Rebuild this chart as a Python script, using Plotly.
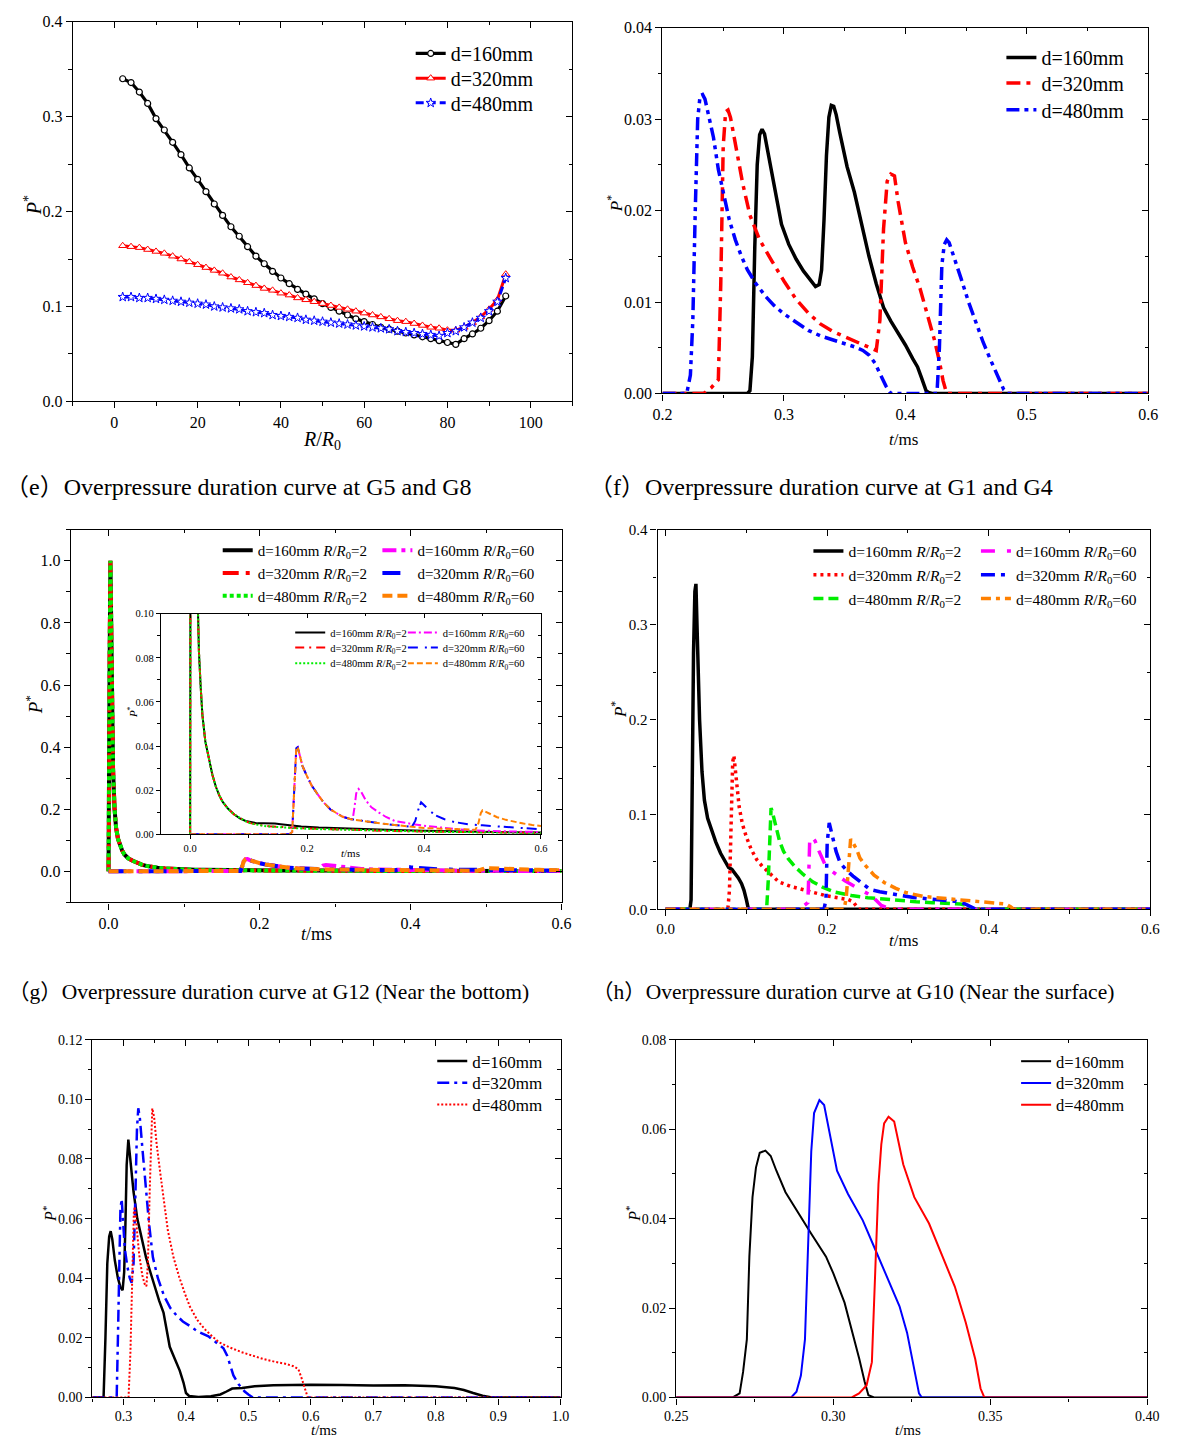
import plotly.graph_objects as go

W, H = 1177, 1446
SERIF = "Liberation Serif, Times New Roman, serif"
CAPF = "Liberation Serif, Noto Sans CJK SC, serif"

# ---------------- data: (e) peak overpressure vs R/R0 ----------------
e_R = [2, 4, 6, 8, 10, 12, 14, 16, 18, 20, 22, 24, 26, 28, 30, 32, 34, 36, 38, 40,
       42, 44, 46, 48, 50, 52, 54, 56, 58, 60, 62, 64, 66, 68, 70, 72, 74, 76, 78, 80,
       82, 84, 86, 88, 90, 92, 94]
e_d160 = [0.340, 0.336, 0.326, 0.314, 0.298, 0.286, 0.273, 0.260, 0.246, 0.234, 0.221, 0.208,
          0.196, 0.184, 0.174, 0.163, 0.153, 0.145, 0.137, 0.130, 0.124, 0.118, 0.113, 0.108,
          0.103, 0.099, 0.095, 0.091, 0.087, 0.084, 0.081, 0.078, 0.076, 0.074, 0.072, 0.070,
          0.068, 0.066, 0.064, 0.062, 0.060, 0.066, 0.071, 0.077, 0.085, 0.095, 0.111]
e_d320 = [0.164, 0.163, 0.162, 0.160, 0.158, 0.156, 0.153, 0.150, 0.147, 0.144, 0.141, 0.138,
          0.135, 0.131, 0.128, 0.125, 0.122, 0.119, 0.117, 0.114, 0.112, 0.109, 0.107, 0.105,
          0.103, 0.101, 0.099, 0.097, 0.095, 0.093, 0.091, 0.089, 0.087, 0.085, 0.084, 0.082,
          0.080, 0.078, 0.077, 0.075, 0.075, 0.078, 0.083, 0.089, 0.097, 0.107, 0.134]
e_d480 = [0.110, 0.110, 0.109, 0.109, 0.108, 0.107, 0.106, 0.105, 0.104, 0.103, 0.102, 0.100,
          0.099, 0.098, 0.097, 0.095, 0.094, 0.093, 0.091, 0.090, 0.089, 0.088, 0.086, 0.085,
          0.084, 0.083, 0.082, 0.081, 0.080, 0.079, 0.078, 0.077, 0.076, 0.074, 0.073, 0.072,
          0.071, 0.070, 0.069, 0.072, 0.074, 0.078, 0.083, 0.088, 0.095, 0.105, 0.130]

# ---------------- data: (f) G1/G4 ----------------
f_t160 = [0.2, 0.270, 0.272, 0.274, 0.276, 0.278, 0.280, 0.282, 0.284, 0.287, 0.292, 0.298, 0.304,
          0.310, 0.316, 0.322, 0.326, 0.329, 0.331, 0.333, 0.335, 0.337, 0.339, 0.341, 0.343, 0.346,
          0.352, 0.358, 0.364, 0.370, 0.376, 0.382, 0.388, 0.394, 0.400, 0.406, 0.410, 0.413, 0.415,
          0.417, 0.419, 0.422, 0.6]
f_p160 = [0, 0, 0.0003, 0.004, 0.016, 0.025, 0.0283, 0.0289, 0.0284, 0.0262, 0.0225, 0.0185, 0.0163,
          0.0147, 0.0134, 0.0123, 0.0117, 0.0119, 0.0135, 0.019, 0.026, 0.0302, 0.0315, 0.0314, 0.0305,
          0.0285, 0.0248, 0.022, 0.0185, 0.015, 0.012, 0.0094, 0.0079, 0.0066, 0.0053, 0.0038, 0.0029,
          0.0018, 0.001, 0.0003, 0.0001, 0, 0]
f_t320 = [0.2, 0.234, 0.240, 0.246, 0.248, 0.250, 0.252, 0.254, 0.256, 0.260, 0.266, 0.272, 0.280,
          0.290, 0.300, 0.310, 0.320, 0.330, 0.340, 0.350, 0.360, 0.370, 0.376, 0.379, 0.382, 0.385,
          0.388, 0.391, 0.394, 0.400, 0.406, 0.412, 0.418, 0.424, 0.428, 0.431, 0.434, 0.6]
f_p320 = [0, 0, 0.0006, 0.0015, 0.012, 0.027, 0.0308, 0.031, 0.0302, 0.0275, 0.023, 0.0195, 0.0168,
          0.0145, 0.0123, 0.0103, 0.0088, 0.0076, 0.0068, 0.0062, 0.0056, 0.005, 0.0047, 0.008, 0.018,
          0.0232, 0.024, 0.0238, 0.021, 0.0165, 0.0138, 0.0115, 0.0088, 0.0058, 0.0035, 0.0014, 0, 0]
f_t480 = [0.2, 0.220, 0.223, 0.225, 0.227, 0.229, 0.231, 0.233, 0.235, 0.238, 0.242, 0.246, 0.250,
          0.255, 0.260, 0.265, 0.270, 0.277, 0.285, 0.292, 0.300, 0.310, 0.320, 0.330, 0.340, 0.350,
          0.358, 0.365, 0.370, 0.375, 0.380, 0.384, 0.388, 0.426, 0.428, 0.430, 0.432, 0.434, 0.436,
          0.440, 0.446, 0.452, 0.458, 0.464, 0.470, 0.476, 0.481, 0.484, 0.6]
f_p480 = [0, 0, 0.002, 0.008, 0.02, 0.03, 0.0326, 0.0327, 0.0322, 0.0305, 0.028, 0.0245, 0.022, 0.019,
          0.0168, 0.015, 0.0135, 0.012, 0.0106, 0.0096, 0.0087, 0.0078, 0.0069, 0.0063, 0.0059, 0.0055,
          0.0051, 0.0047, 0.0042, 0.0033, 0.002, 0.0008, 0, 0, 0.005, 0.014, 0.0163, 0.0168, 0.0165,
          0.015, 0.0125, 0.01, 0.0078, 0.0056, 0.0037, 0.0018, 0.0004, 0, 0]

# ---------------- data: (g) G12 near the bottom ----------------
g_t_r2 = [0, 0.0008, 0.0015, 0.0025, 0.0035, 0.0045, 0.006, 0.008, 0.010, 0.0125, 0.015, 0.018, 0.021,
          0.026, 0.032, 0.038, 0.044, 0.050, 0.056, 0.065, 0.075, 0.085, 0.095, 0.105, 0.115, 0.125,
          0.135, 0.145, 0.155, 0.170, 0.190, 0.220, 0.260, 0.300, 0.350, 0.400, 0.450, 0.500, 0.550, 0.600]
g_p160_r2 = [0, 0.2, 0.7, 1.0, 0.8, 0.55, 0.33, 0.2, 0.14, 0.105, 0.083, 0.067, 0.054, 0.042, 0.034,
             0.027, 0.0215, 0.0175, 0.0145, 0.0115, 0.009, 0.0072, 0.006, 0.0053, 0.0049, 0.0049, 0.005,
             0.0048, 0.0045, 0.004, 0.0035, 0.003, 0.0026, 0.0023, 0.0019, 0.0016, 0.0013, 0.0011,
             0.0009, 0.0008]
g_p320_r2 = [0, 0.2, 0.72, 1.0, 0.8, 0.55, 0.33, 0.2, 0.14, 0.105, 0.083, 0.067, 0.054, 0.042, 0.034,
             0.027, 0.0215, 0.0175, 0.0145, 0.0115, 0.009, 0.0072, 0.0058, 0.0049, 0.0043, 0.0039,
             0.0036, 0.0034, 0.0032, 0.003, 0.0027, 0.0024, 0.002, 0.0017, 0.0014, 0.0012, 0.001,
             0.0008, 0.0007, 0.0006]
g_p480_r2 = [0, 0.2, 0.7, 1.0, 0.8, 0.55, 0.33, 0.2, 0.14, 0.105, 0.083, 0.067, 0.054, 0.042, 0.034,
             0.027, 0.0215, 0.0175, 0.0145, 0.0115, 0.009, 0.0072, 0.0058, 0.0048, 0.0042, 0.0038,
             0.0035, 0.0033, 0.0031, 0.0029, 0.0026, 0.0023, 0.002, 0.0017, 0.0014, 0.0012, 0.001,
             0.0008, 0.0007, 0.0006]
g_t160_r60 = [0, 0.170, 0.1745, 0.177, 0.179, 0.1815, 0.184, 0.187, 0.192, 0.200, 0.208, 0.217, 0.228,
              0.240, 0.250, 0.261, 0.270, 0.278, 0.281, 0.284, 0.288, 0.292, 0.300, 0.310, 0.323, 0.335,
              0.350, 0.365, 0.380, 0.400, 0.430, 0.460, 0.490, 0.520, 0.550, 0.600]
g_p160_r60 = [0, 0, 0.001, 0.015, 0.032, 0.039, 0.0395, 0.036, 0.031, 0.0262, 0.022, 0.0185, 0.0145,
              0.0112, 0.0095, 0.0079, 0.0072, 0.0068, 0.012, 0.0185, 0.0205, 0.0195, 0.0155, 0.0122,
              0.0098, 0.0078, 0.006, 0.0052, 0.0046, 0.0038, 0.0029, 0.0022, 0.0017, 0.0014, 0.0012, 0.001]
g_t320_r60 = [0, 0.170, 0.1745, 0.177, 0.179, 0.1815, 0.184, 0.187, 0.192, 0.200, 0.208, 0.217, 0.228,
              0.240, 0.250, 0.261, 0.275, 0.289, 0.303, 0.317, 0.331, 0.345, 0.360, 0.379, 0.385, 0.390,
              0.395, 0.400, 0.410, 0.420, 0.435, 0.452, 0.475, 0.500, 0.525, 0.550, 0.575, 0.600]
g_p320_r60 = [0, 0, 0.001, 0.015, 0.032, 0.039, 0.0395, 0.036, 0.031, 0.0262, 0.022, 0.0185, 0.0145,
              0.0112, 0.0095, 0.0079, 0.0068, 0.0062, 0.0057, 0.0052, 0.0047, 0.0043, 0.0038, 0.0033,
              0.006, 0.011, 0.0145, 0.013, 0.0105, 0.0085, 0.0068, 0.0055, 0.0045, 0.004, 0.0036,
              0.0032, 0.0027, 0.0022]
g_t480_r60 = [0, 0.170, 0.1745, 0.177, 0.179, 0.1815, 0.184, 0.187, 0.192, 0.200, 0.208, 0.217, 0.228,
              0.240, 0.250, 0.261, 0.275, 0.289, 0.303, 0.317, 0.331, 0.345, 0.360, 0.379, 0.400, 0.430,
              0.457, 0.488, 0.493, 0.497, 0.500, 0.505, 0.515, 0.525, 0.540, 0.555, 0.570, 0.585, 0.600]
g_p480_r60 = [0, 0, 0.001, 0.015, 0.032, 0.039, 0.0395, 0.036, 0.031, 0.0262, 0.022, 0.0185, 0.0145,
              0.0112, 0.0095, 0.0079, 0.0068, 0.0062, 0.0057, 0.0052, 0.0047, 0.0043, 0.0038, 0.0033,
              0.0028, 0.0025, 0.0022, 0.002, 0.005, 0.0095, 0.0108, 0.0102, 0.0088, 0.0077, 0.0065,
              0.0055, 0.0048, 0.0042, 0.0037]

# ---------------- data: (h) G10 near the surface ----------------
h_t160_r2 = [0, 0.030, 0.0315, 0.033, 0.0345, 0.0362, 0.0375, 0.0388, 0.040, 0.042, 0.045, 0.048, 0.052,
             0.057, 0.062, 0.068, 0.074, 0.078, 0.082, 0.086, 0.090, 0.094, 0.097, 0.100, 0.102, 0.104, 0.600]
h_p160_r2 = [0, 0, 0.01, 0.15, 0.27, 0.335, 0.343, 0.3, 0.255, 0.2, 0.145, 0.115, 0.096, 0.082, 0.071,
             0.059, 0.049, 0.044, 0.042, 0.038, 0.033, 0.027, 0.02, 0.01, 0.002, 0, 0]
h_t320_r2 = [0, 0.077, 0.079, 0.081, 0.083, 0.0845, 0.086, 0.088, 0.091, 0.095, 0.100, 0.106, 0.113,
             0.120, 0.130, 0.140, 0.155, 0.170, 0.185, 0.200, 0.215, 0.226, 0.232, 0.236, 0.239, 0.600]
h_p320_r2 = [0, 0, 0.02, 0.1, 0.155, 0.162, 0.15, 0.13, 0.108, 0.09, 0.076, 0.063, 0.052, 0.045, 0.037,
             0.029, 0.024, 0.0205, 0.017, 0.014, 0.0118, 0.0102, 0.008, 0.004, 0, 0]
h_t480_r2 = [0, 0.125, 0.127, 0.129, 0.1305, 0.132, 0.134, 0.137, 0.141, 0.146, 0.152, 0.160, 0.170,
             0.182, 0.195, 0.210, 0.230, 0.250, 0.270, 0.290, 0.310, 0.330, 0.350, 0.365, 0.372, 0.378,
             0.383, 0.600]
h_p480_r2 = [0, 0, 0.03, 0.09, 0.1066, 0.103, 0.096, 0.085, 0.072, 0.061, 0.053, 0.045, 0.037, 0.029,
             0.023, 0.018, 0.0145, 0.0122, 0.0105, 0.009, 0.008, 0.007, 0.0065, 0.0055, 0.0042, 0.002, 0, 0]
h_t160_r60 = [0, 0.160, 0.170, 0.176, 0.1768, 0.1775, 0.1785, 0.181, 0.185, 0.190, 0.198, 0.206, 0.214,
              0.222, 0.232, 0.242, 0.251, 0.260, 0.267, 0.275, 0.283, 0.290, 0.600]
h_p160_r60 = [0, 0, 0.003, 0.007, 0.025, 0.05, 0.077, 0.076, 0.072, 0.061, 0.046, 0.040, 0.035, 0.030,
              0.025, 0.020, 0.016, 0.010, 0.004, 0.0015, 0.0003, 0, 0]
h_t320_r60 = [0, 0.196, 0.1985, 0.199, 0.200, 0.2025, 0.205, 0.207, 0.211, 0.216, 0.224, 0.232, 0.2425,
              0.2526, 0.265, 0.279, 0.293, 0.307, 0.325, 0.344, 0.360, 0.370, 0.378, 0.384, 0.600]
h_p320_r60 = [0, 0, 0.01, 0.04, 0.07, 0.091, 0.082, 0.072, 0.061, 0.049, 0.041, 0.035, 0.028, 0.021,
              0.0185, 0.016, 0.0143, 0.0125, 0.011, 0.009, 0.0082, 0.006, 0.002, 0, 0]
h_t480_r60 = [0, 0.221, 0.2236, 0.2255, 0.2275, 0.229, 0.232, 0.2365, 0.2405, 0.2465, 0.258, 0.271,
              0.285, 0.297, 0.319, 0.340, 0.362, 0.385, 0.408, 0.421, 0.427, 0.431, 0.600]
h_p480_r60 = [0, 0, 0.0125, 0.035, 0.065, 0.074, 0.07, 0.063, 0.054, 0.047, 0.036, 0.028, 0.022, 0.0177,
              0.0135, 0.0118, 0.0105, 0.0088, 0.0072, 0.0055, 0.0028, 0, 0]

# ---------------- data: bottom-left ----------------
i_t160 = [0.25, 0.268, 0.271, 0.274, 0.277, 0.2794, 0.282, 0.286, 0.291, 0.295, 0.2985, 0.301, 0.303,
          0.305, 0.3077, 0.311, 0.316, 0.322, 0.329, 0.336, 0.343, 0.350, 0.357, 0.364, 0.369, 0.374,
          0.382, 0.390, 0.396, 0.400, 0.405, 0.420, 0.440, 0.455, 0.465, 0.474, 0.490, 0.510, 0.540,
          0.600, 0.650, 0.700, 0.750, 0.800, 0.830, 0.845, 0.860, 0.875, 0.890, 1.0]
i_p160 = [0, 0, 0.02, 0.045, 0.054, 0.0558, 0.053, 0.046, 0.040, 0.037, 0.036, 0.042, 0.058, 0.078,
          0.0865, 0.08, 0.069, 0.06, 0.053, 0.047, 0.042, 0.037, 0.0325, 0.0285, 0.022, 0.017, 0.013,
          0.009, 0.005, 0.0015, 0.0005, 0.0002, 0.0004, 0.001, 0.002, 0.003, 0.0032, 0.0038, 0.0041,
          0.0043, 0.0042, 0.004, 0.0041, 0.0038, 0.0032, 0.0025, 0.0015, 0.0006, 0, 0]
i_t320 = [0.25, 0.289, 0.291, 0.293, 0.295, 0.297, 0.299, 0.302, 0.306, 0.310, 0.313, 0.316, 0.319,
          0.3215, 0.3236, 0.326, 0.330, 0.335, 0.341, 0.347, 0.355, 0.365, 0.375, 0.385, 0.395, 0.406,
          0.420, 0.436, 0.450, 0.460, 0.466, 0.470, 0.476, 0.484, 0.494, 0.500, 0.507, 0.600, 1.0]
i_p320 = [0, 0, 0.02, 0.05, 0.063, 0.0666, 0.06, 0.05, 0.044, 0.040, 0.0385, 0.045, 0.068, 0.09, 0.097,
          0.094, 0.084, 0.071, 0.058, 0.047, 0.040, 0.034, 0.030, 0.0275, 0.0255, 0.024, 0.022, 0.0205,
          0.018, 0.0165, 0.014, 0.011, 0.0074, 0.0045, 0.002, 0.001, 0, 0, 0]
i_t480 = [0.25, 0.308, 0.311, 0.314, 0.3165, 0.318, 0.321, 0.325, 0.330, 0.334, 0.3366, 0.339, 0.342,
          0.344, 0.346, 0.349, 0.353, 0.359, 0.365, 0.371, 0.380, 0.389, 0.398, 0.406, 0.418, 0.430,
          0.442, 0.453, 0.470, 0.489, 0.507, 0.524, 0.542, 0.559, 0.572, 0.580, 0.586, 0.590, 0.595, 1.0]
i_p480 = [0, 0, 0.015, 0.045, 0.062, 0.064, 0.058, 0.048, 0.041, 0.038, 0.0373, 0.045, 0.07, 0.088,
          0.097, 0.094, 0.085, 0.075, 0.065, 0.056, 0.047, 0.0405, 0.035, 0.0306, 0.026, 0.0229, 0.0205,
          0.0185, 0.0168, 0.0152, 0.014, 0.0129, 0.012, 0.0113, 0.0105, 0.0095, 0.006, 0.003, 0, 0]

# ---------------- data: bottom-right ----------------
j_t160 = [0.25, 0.268, 0.2702, 0.2713, 0.2725, 0.2733, 0.2743, 0.2754, 0.2766, 0.2784, 0.2801, 0.2819,
          0.2848, 0.2883, 0.293, 0.2977, 0.300, 0.3036, 0.3059, 0.3083, 0.310, 0.3112, 0.313, 0.40]
j_p160 = [0, 0, 0.0009, 0.0057, 0.013, 0.0315, 0.0448, 0.0514, 0.0547, 0.0552, 0.054, 0.0507, 0.0459,
          0.0418, 0.0366, 0.0315, 0.0278, 0.0212, 0.0153, 0.0086, 0.0035, 0.0005, 0, 0]
j_t320 = [0.25, 0.2866, 0.2883, 0.2897, 0.291, 0.2918, 0.293, 0.2939, 0.2956, 0.2971, 0.2989, 0.3012,
          0.3047, 0.3094, 0.313, 0.3165, 0.3211, 0.3235, 0.3258, 0.3273, 0.3282, 0.40]
j_p320 = [0, 0, 0.0013, 0.0049, 0.013, 0.0315, 0.055, 0.0636, 0.0665, 0.0654, 0.0588, 0.0507, 0.0455,
          0.0396, 0.0337, 0.0278, 0.0204, 0.0145, 0.0064, 0.0009, 0, 0]
j_t480 = [0.25, 0.3059, 0.3082, 0.3106, 0.3123, 0.3135, 0.3144, 0.3153, 0.3162, 0.3176, 0.3194, 0.3223,
          0.3258, 0.3305, 0.334, 0.3387, 0.3422, 0.3452, 0.3469, 0.3481, 0.40]
j_p480 = [0, 0, 0.0009, 0.0027, 0.0079, 0.0315, 0.0477, 0.0566, 0.0613, 0.0628, 0.0617, 0.0521, 0.0448,
          0.0389, 0.033, 0.0248, 0.0167, 0.0086, 0.002, 0, 0]

# labels
N160, N320, N480 = "d=160mm", "d=320mm", "d=480mm"
R2 = " <i>R</i>/<i>R</i><sub>0</sub>=2"
R60 = " <i>R</i>/<i>R</i><sub>0</sub>=60"
captions = ["（e）Overpressure duration curve at G5 and G8",
            "（f）Overpressure duration curve at G1 and G4",
            "（g）Overpressure duration curve at G12 (Near the bottom)",
            "（h）Overpressure duration curve at G10 (Near the surface)"]

BLACK, RED, BLUE, GREEN, MAG, ORANGE = "#000000", "#FF0000", "#0000FF", "#00EE00", "#FF00FF", "#FF8000"

fig = go.Figure()
layout = {}
annotations = []


def ax_name(k, n):
    return f"{k}axis" if n == 1 else f"{k}axis{n}"


def ax_ref(k, n):
    return k if n == 1 else f"{k}{n}"


def make_panel(p, box, xr, yr, xdt, ydt, xmdt, ymdt, xfmt, yfmt, fs, tl=6, mtl=3.5, lw=1.3):
    x0, x1, y0, y1 = box
    nm, no = 2 * p - 1, 2 * p
    xd = [x0 / W, x1 / W]
    yd = [1 - y1 / H, 1 - y0 / H]
    tf = dict(family=SERIF, size=fs, color="black")
    base = dict(showgrid=False, zeroline=False, tickcolor="black", tickwidth=lw, ticklen=tl, tick0=0)
    layout[ax_name("x", nm)] = dict(domain=xd, anchor=ax_ref("y", nm), range=xr, dtick=xdt, tickformat=xfmt,
                                    ticks="outside", showline=True, mirror=True, linecolor="black",
                                    linewidth=lw, tickfont=tf,
                                    minor=dict(ticks="outside", tick0=0, dtick=xmdt, ticklen=mtl,
                                               tickcolor="black", tickwidth=lw), **base)
    layout[ax_name("y", nm)] = dict(domain=yd, anchor=ax_ref("x", nm), range=yr, dtick=ydt, tickformat=yfmt,
                                    ticks="outside", showline=True, mirror=True, linecolor="black",
                                    linewidth=lw, tickfont=tf,
                                    minor=dict(ticks="outside", tick0=0, dtick=ymdt, ticklen=mtl,
                                               tickcolor="black", tickwidth=lw), **base)
    layout[ax_name("x", no)] = dict(overlaying=ax_ref("x", nm), side="top", anchor=ax_ref("y", nm), range=xr,
                                    dtick=xdt, ticks="inside", showticklabels=False, showline=False,
                                    minor=dict(ticks="inside", tick0=0, dtick=xmdt, ticklen=mtl,
                                               tickcolor="black", tickwidth=lw), **base)
    layout[ax_name("y", no)] = dict(overlaying=ax_ref("y", nm), side="right", anchor=ax_ref("x", nm), range=yr,
                                    dtick=ydt, ticks="inside", showticklabels=False, showline=False,
                                    minor=dict(ticks="inside", tick0=0, dtick=ymdt, ticklen=mtl,
                                               tickcolor="black", tickwidth=lw), **base)
    fig.add_trace(go.Scatter(x=[], y=[], xaxis=ax_ref("x", no), yaxis=ax_ref("y", no),
                             showlegend=False, hoverinfo="skip"))
    return ax_ref("x", nm), ax_ref("y", nm)


leg_count = [0]


def new_legend(line_x, cy, fs):
    leg_count[0] += 1
    lid = "legend" if leg_count[0] == 1 else f"legend{leg_count[0]}"
    layout[lid] = dict(x=(line_x - 5) / W, y=1 - cy / H, xanchor="left", yanchor="middle",
                       bgcolor="rgba(0,0,0,0)", borderwidth=0,
                       font=dict(family=SERIF, size=fs, color="black"))
    return lid


def add_line(axes, x, y, color, width, dash, name, leg, marker=None):
    fig.add_trace(go.Scatter(x=x, y=y, xaxis=axes[0], yaxis=axes[1],
                             mode="lines+markers" if marker else "lines",
                             line=dict(color=color, width=width, dash=dash),
                             marker=marker, name=name, legend=leg, showlegend=True))


def text(px, py, s, size, angle=0, anchor="center", family=SERIF):
    annotations.append(dict(xref="paper", yref="paper", x=px / W, y=1 - py / H, text=s, showarrow=False,
                            xanchor=anchor, yanchor="middle", textangle=angle,
                            font=dict(family=family, size=size, color="black")))


PSTAR = "<i>P</i><sup>*</sup>"
TMS = "<i>t</i>/ms"

# ---- panel (e) ----
ax = make_panel(1, (62, 572, 14, 398), [-10, 110], [0, 0.4], 20, 0.1, 10, 0.05, "d", ".1f", 16)
add_line(ax, e_R, e_d160, BLACK, 3.2, "solid", N160, new_legend(412, 46, 20),
         dict(symbol="circle", size=6, color="white", line=dict(color=BLACK, width=1.2)))
add_line(ax, e_R, e_d320, RED, 3, "solid", N320, new_legend(412, 71, 20),
         dict(symbol="triangle-up", size=7, color="white", line=dict(color=RED, width=1)))
add_line(ax, e_R, e_d480, BLUE, 3, "8px,4px", N480, new_legend(412, 96, 20),
         dict(symbol="star", size=7, color="white", line=dict(color=BLUE, width=1)))
text(316, 438, "<i>R</i>/<i>R</i><sub>0</sub>", 20)
text(21, 200, PSTAR, 20, angle=-90)

# ---- panel (f) ----
ax = make_panel(2, (664, 1160, 20, 390), [0.2, 0.6], [0, 0.04], 0.1, 0.01, 0.05, 0.005, ".1f", ".2f", 16)
add_line(ax, f_t160, f_p160, BLACK, 3.5, "solid", N160, new_legend(1015, 50, 20))
add_line(ax, f_t320, f_p320, RED, 3.5, "14px,6px,4px,6px", N320, new_legend(1015, 76, 20))
add_line(ax, f_t480, f_p480, BLUE, 3.5, "13px,5px,4px,5px,4px,5px", N480, new_legend(1015, 103, 20))
text(910, 437, TMS, 17)
text(615, 198, PSTAR, 17, angle=-90)

# ---- panel (g) main ----
ax = make_panel(3, (60, 561, 528, 905), [-0.05, 0.6], [-0.1, 1.1], 0.2, 0.2, 0.1, 0.1, ".1f", ".1f", 16)
gl = [new_legend(215, 549, 15), new_legend(215, 572, 15), new_legend(215, 595, 15),
      new_legend(378, 549, 15), new_legend(378, 572, 15), new_legend(378, 595, 15)]
add_line(ax, g_t_r2, g_p160_r2, BLACK, 4, "solid", N160 + R2, gl[0])
add_line(ax, g_t_r2, g_p320_r2, RED, 4, "16px,7px,4px,7px", N320 + R2, gl[1])
add_line(ax, g_t_r2, g_p480_r2, GREEN, 4, "4px,3px", N480 + R2, gl[2])
add_line(ax, g_t160_r60, g_p160_r60, MAG, 4, "14px,5px,4px,5px", N160 + R60, gl[3])
add_line(ax, g_t320_r60, g_p320_r60, BLUE, 4, "18px,12px,4px,6px", N320 + R60, gl[4])
add_line(ax, g_t480_r60, g_p480_r60, ORANGE, 4, "10px,5px", N480 + R60, gl[5])
text(311, 937, TMS, 18)
text(22, 705, PSTAR, 19, angle=-90)

# ---- panel (g) inset ----
ax = make_panel(4, (152, 540, 613, 836), [-0.05, 0.6], [0, 0.1], 0.2, 0.02, 0.1, 0.01, ".1f", ".2f", 10.5,
                tl=4, mtl=2.5, lw=1)
il = [new_legend(289, 632, 10.5), new_legend(289, 647, 10.5), new_legend(289, 663, 10.5),
      new_legend(404, 632, 10.5), new_legend(404, 647, 10.5), new_legend(404, 663, 10.5)]
add_line(ax, g_t_r2, g_p160_r2, BLACK, 2, "solid", N160 + R2, il[0])
add_line(ax, g_t_r2, g_p320_r2, RED, 2, "9px,5px,2px,5px", N320 + R2, il[1])
add_line(ax, g_t_r2, g_p480_r2, GREEN, 2, "2px,2px", N480 + R2, il[2])
add_line(ax, g_t160_r60, g_p160_r60, MAG, 2, "8px,3px,2px,3px", N160 + R60, il[3])
add_line(ax, g_t320_r60, g_p320_r60, BLUE, 2, "10px,7px,2px,4px", N320 + R60, il[4])
add_line(ax, g_t480_r60, g_p480_r60, ORANGE, 2, "6px,3px", N480 + R60, il[5])
text(346, 855, TMS, 11)
text(123, 712, PSTAR, 11, angle=-90)

# ---- panel (h) ----
ax = make_panel(5, (659, 1162, 528, 912), [-0.01, 0.6], [0, 0.4], 0.2, 0.1, 0.1, 0.05, ".1f", ".1f", 15)
hl = [new_legend(818, 550, 15.5), new_legend(818, 574, 15.5), new_legend(818, 598, 15.5),
      new_legend(989, 550, 15.5), new_legend(989, 574, 15.5), new_legend(989, 598, 15.5)]
add_line(ax, h_t160_r2, h_p160_r2, BLACK, 3.5, "solid", N160 + R2, hl[0])
add_line(ax, h_t320_r2, h_p320_r2, RED, 3.5, "3px,4px", N320 + R2, hl[1])
add_line(ax, h_t480_r2, h_p480_r2, GREEN, 3.5, "10px,5px", N480 + R2, hl[2])
add_line(ax, h_t160_r60, h_p160_r60, MAG, 3.5, "14px,12px,4px,8px", N160 + R60, hl[3])
add_line(ax, h_t320_r60, h_p320_r60, BLUE, 3.5, "14px,6px,4px,6px", N320 + R60, hl[4])
add_line(ax, h_t480_r60, h_p480_r60, ORANGE, 3.5, "10px,5px,4px,5px", N480 + R60, hl[5])
text(910, 944, TMS, 17)
text(619, 710, PSTAR, 17, angle=-90)

# ---- bottom-left ----
ax = make_panel(6, (82, 560, 1044, 1406), [0.25, 1.0], [0, 0.12], 0.1, 0.02, 0.05, 0.01, ".1f", ".2f", 14)
add_line(ax, i_t160, i_p160, BLACK, 2.5, "solid", N160, new_legend(434, 1066, 17))
add_line(ax, i_t320, i_p320, BLUE, 2.5, "12px,5px,3px,5px", N320, new_legend(434, 1088, 17))
add_line(ax, i_t480, i_p480, RED, 2, "2px,2px", N480, new_legend(434, 1110, 17))
text(319, 1439, TMS, 15)
text(38, 1220, PSTAR, 16, angle=-90)

# ---- bottom-right ----
ax = make_panel(7, (678, 1159, 1044, 1406), [0.25, 0.40], [0, 0.08], 0.05, 0.02, 0.025, 0.01, ".2f", ".2f", 14)
add_line(ax, j_t160, j_p160, BLACK, 2, "solid", N160, new_legend(1030, 1066, 16.5))
add_line(ax, j_t320, j_p320, BLUE, 2, "solid", N320, new_legend(1030, 1088, 16.5))
add_line(ax, j_t480, j_p480, RED, 2, "solid", N480, new_legend(1030, 1110, 16.5))
text(915, 1439, TMS, 15)
text(634, 1220, PSTAR, 16, angle=-90)

# ---- captions ----
text(-9, 485, captions[0], 24, anchor="left", family=CAPF)
text(587, 485, captions[1], 24, anchor="left", family=CAPF)
text(-6, 996, captions[2], 21.5, anchor="left", family=CAPF)
text(590, 996, captions[3], 21.5, anchor="left", family=CAPF)

layout.update(width=W, height=H, margin=dict(l=0, r=0, t=0, b=0), plot_bgcolor="white",
              paper_bgcolor="white", annotations=annotations, showlegend=True)
fig.update_layout(layout)
fig.write_html("out.html", config={"displayModeBar": False},
               post_script="document.body.style.margin='0';document.body.style.overflow='hidden';")
